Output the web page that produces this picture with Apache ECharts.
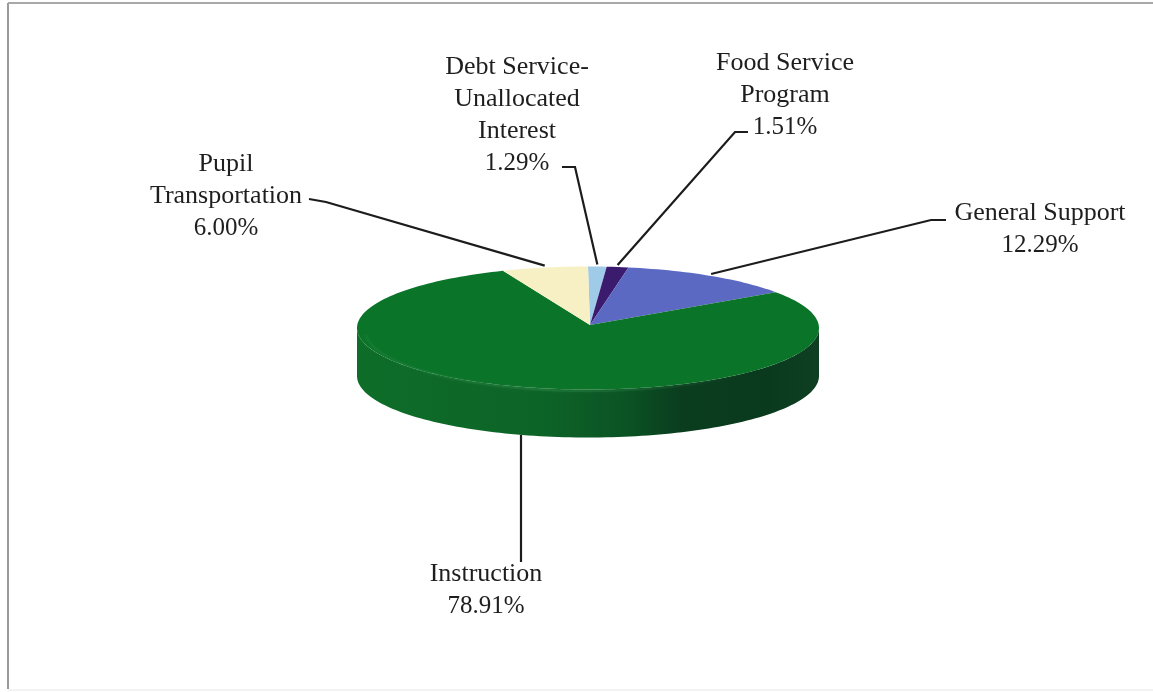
<!DOCTYPE html>
<html>
<head>
<meta charset="utf-8">
<title>Expenditures by function</title>
<style>
  html, body { margin: 0; padding: 0; background: #fff; }
  #chart { width: 1153px; height: 692px; }
</style>
<script src="https://cdn.jsdelivr.net/npm/echarts@6/dist/echarts.min.js"></script>
</head>
<body>
<div id="chart"></div>
<script>
// Shares of spending by function, clockwise from twelve o'clock.
const categories = [
  'Debt Service-\nUnallocated\nInterest',
  'Food Service\nProgram',
  'General Support',
  'Instruction',
  'Pupil\nTransportation'
];
const shares = [1.29, 1.51, 12.29, 78.91, 6.00];
const topColors = ['#9fcbe8', '#3a1b6e', '#5b69c2', '#0a7429', '#f6f0c4'];

// Disc geometry in pixels; the apex sits a little behind the ellipse centre.
const disc = { cx: 588, cy: 328, rx: 231, ry: 61.5, depth: 48, apexX: 590, apexY: 325 };

// Label centre and top edge, plus the elbow of each leader line.
const labelSpots = [
  { x: 517, y: 51 },
  { x: 785, y: 47 },
  { x: 1040, y: 197 },
  { x: 486, y: 558 },
  { x: 226, y: 148 }
];
const leaderElbows = [
  [[562, 167], [575, 167]],
  [[748, 132], [735, 132]],
  [[946, 220], [931, 220]],
  [[521, 562]],
  [[309, 199], [326, 202]]
];

const total = shares.reduce((a, b) => a + b, 0);
const rad = deg => deg * Math.PI / 180;
const rimPoint = (deg, dy) => [
  disc.cx + disc.rx * Math.sin(rad(deg)),
  disc.cy - disc.ry * Math.cos(rad(deg)) + (dy || 0)
];

// Start and end angle of each slice, in degrees clockwise from the top.
const spans = [];
shares.reduce((acc, v) => {
  const next = acc + v / total * 360;
  spans.push([acc, next]);
  return next;
}, 0);

function arcPoints(from, to, dy) {
  const pts = [];
  const n = Math.max(2, Math.ceil((to - from) / 1.5));
  for (let i = 0; i <= n; i++) pts.push(rimPoint(from + (to - from) * i / n, dy));
  return pts;
}

function renderSlice(params, api) {
  const i = params.dataIndex;
  const [a0, a1] = spans[i];
  const children = [];

  // The wall is only visible on the front half of the disc.
  const from = Math.max(a0, 90), to = Math.min(a1, 270);
  if (to > from) {
    const upper = arcPoints(from, to, 0);
    const lower = arcPoints(from, to, disc.depth).reverse();
    children.push({
      type: 'polygon',
      shape: { points: upper.concat(lower) },
      style: {
        fill: new echarts.graphic.LinearGradient(1, 0, 0, 0, [
          { offset: 0, color: '#0f3f22' },
          { offset: 0.12, color: '#0a3a1e' },
          { offset: 0.3, color: '#0a3d1e' },
          { offset: 0.42, color: '#0b5324' },
          { offset: 0.6, color: '#0d6427' },
          { offset: 1, color: '#0e6d29' }
        ])
      }
    });
  }

  // Top face of the slice.
  children.push({
    type: 'polygon',
    shape: { points: [[disc.apexX, disc.apexY]].concat(arcPoints(a0, a1, 0)) },
    style: { fill: topColors[i] }
  });

  // Soft bevel along the front of the rim.
  if (to > from) {
    const bevel = arcPoints(Math.max(from, 135), to - 4, 0).map(p => [
      disc.cx + (p[0] - disc.cx) * 0.965,
      disc.cy + (p[1] - disc.cy) * 0.99 + 2
    ]);
    children.push({
      type: 'polyline',
      shape: { points: bevel },
      style: {
        fill: 'none',
        lineWidth: 2.5,
        shadowBlur: 3,
        shadowColor: 'rgba(60,150,85,0.35)',
        stroke: new echarts.graphic.LinearGradient(1, 0, 0, 0, [
          { offset: 0, color: 'rgba(45,135,70,0)' },
          { offset: 0.5, color: 'rgba(45,135,70,0.4)' },
          { offset: 1, color: 'rgba(45,135,70,0.2)' }
        ])
      }
    });
  }
  return { type: 'group', children };
}

function renderLabel(params, api) {
  const i = params.dataIndex;
  const mid = (spans[i][0] + spans[i][1]) / 2;
  // Leaders from the back attach to the top rim, the front one to the wall's foot.
  const front = mid > 90 && mid < 270;
  const anchor = rimPoint(mid, front ? disc.depth : 0);
  anchor[1] += front ? 0 : -2;
  if (front) anchor[0] = leaderElbows[i][0][0];
  const spot = labelSpots[i];
  const nameLines = categories[i].split('\n').map(line => '{n|' + line + '}');
  return {
    type: 'group',
    children: [
      {
        type: 'polyline',
        shape: { points: leaderElbows[i].concat([anchor]) },
        style: { fill: 'none', stroke: '#1c1c1c', lineWidth: 2.2 }
      },
      {
        type: 'text',
        x: spot.x,
        y: spot.y,
        style: {
          text: nameLines.concat('{v|' + shares[i].toFixed(2) + '%}').join('\n'),
          align: 'center',
          verticalAlign: 'top',
          rich: {
            n: { font: '26px "Liberation Serif"', lineHeight: 32, fill: '#1e1e1e' },
            v: { font: '25px "Liberation Serif"', lineHeight: 32, fill: '#1e1e1e' }
          }
        }
      }
    ]
  };
}

const seriesData = categories.map((name, i) => ({ name: name, value: shares[i] }));

const chart = echarts.init(document.getElementById('chart'), null, { renderer: 'canvas' });
chart.setOption({
  animation: false,
  backgroundColor: '#ffffff',
  graphic: [
    { type: 'line', shape: { x1: 8, y1: 3, x2: 8, y2: 689 }, style: { stroke: '#9a9a9a', lineWidth: 2 } },
    { type: 'line', shape: { x1: 8, y1: 3, x2: 1153, y2: 3 }, style: { stroke: '#a8a8a8', lineWidth: 2 } },
    { type: 'line', shape: { x1: 8, y1: 690, x2: 1153, y2: 690 }, style: { stroke: '#e6e6e6', lineWidth: 1 } }
  ],
  series: [
    { type: 'custom', coordinateSystem: 'none', renderItem: renderSlice, data: seriesData, silent: true, z: 2 },
    { type: 'custom', coordinateSystem: 'none', renderItem: renderLabel, data: seriesData, silent: true, z: 3 }
  ]
});
</script>
</body>
</html>
